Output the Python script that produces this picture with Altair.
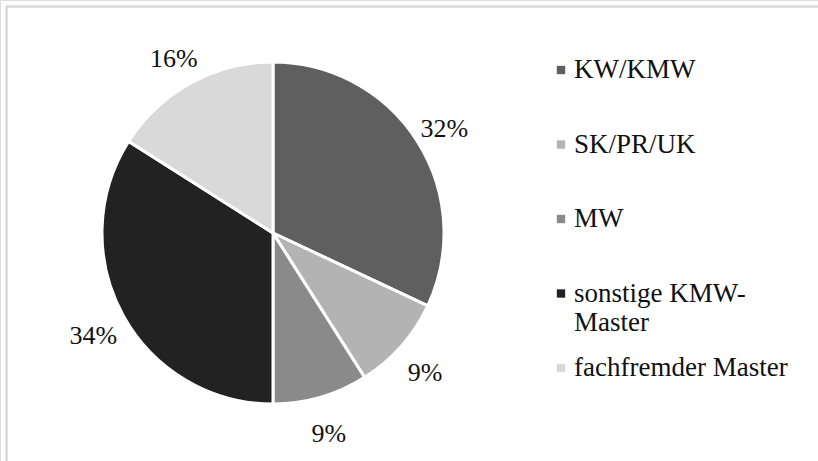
import altair as alt
import pandas as pd

# Shares of master programmes (percent), clockwise from 12 o'clock
categories = ["KW/KMW", "SK/PR/UK", "MW", "sonstige KMW-Master", "fachfremder Master"]
shares = [32, 9, 9, 34, 16]
legend_text = ["KW/KMW", "SK/PR/UK", "MW", "sonstige KMW-\nMaster", "fachfremder Master"]
colors = ["#5f5f5f", "#b3b3b3", "#8a8a8a", "#222222", "#d9d9d9"]

df = pd.DataFrame({
    "category": categories,
    "share": shares,
    "order": list(range(len(categories))),
    "legend": legend_text,
})
df["label"] = df["share"].astype(str) + "%"

FONT = "Liberation Serif"
CX, CY, R = 273, 233, 171

color = alt.Color("category:N", scale=alt.Scale(domain=categories, range=colors), legend=None)
theta = alt.Theta("share:Q", stack=True)
order = alt.Order("order:Q")

base = alt.Chart(df)

pie = base.mark_arc(outerRadius=R, stroke="white", strokeWidth=3).encode(
    theta=theta, order=order, color=color,
    x=alt.value(CX), y=alt.value(CY),
)

# percentage labels just outside the slices
labels = base.mark_text(radius=204, font=FONT, fontSize=26, color="#111111",
                        align="center", baseline="middle").encode(
    theta=theta, order=order, text="label:N",
    x=alt.value(CX - 1), y=alt.value(CY + 5),
)

# hand-built legend on the right
legend_y = alt.Y("order:Q", scale=alt.Scale(domain=[0, 4], range=[70, 368]), axis=None)

legend_marks = base.mark_square(size=70, opacity=1).encode(
    x=alt.value(561), y=legend_y, color=color,
)

legend_labels = base.mark_text(font=FONT, fontSize=27, color="#111111", align="left",
                               baseline="middle", lineBreak="\n").encode(
    x=alt.value(574), y=legend_y, text="legend:N",
)

# light frame along the left and top edges
frame_left = alt.Chart(df).mark_rule(color="#d9d9d9", strokeWidth=1.5).encode(
    x=alt.value(6.5), y=alt.value(6), y2=alt.value(461)
)
frame_top = alt.Chart(df).mark_rule(color="#d9d9d9", strokeWidth=1.5).encode(
    x=alt.value(6), x2=alt.value(818), y=alt.value(6.5)
)

chart = alt.layer(frame_left, frame_top, pie, labels, legend_marks, legend_labels).properties(
    width=818, height=461,
    autosize=alt.AutoSizeParams(type="none"),
    padding=0,
).configure_view(stroke=None).configure(background="white")

chart.save("out.html", embed_options={"renderer": "svg", "actions": False})
